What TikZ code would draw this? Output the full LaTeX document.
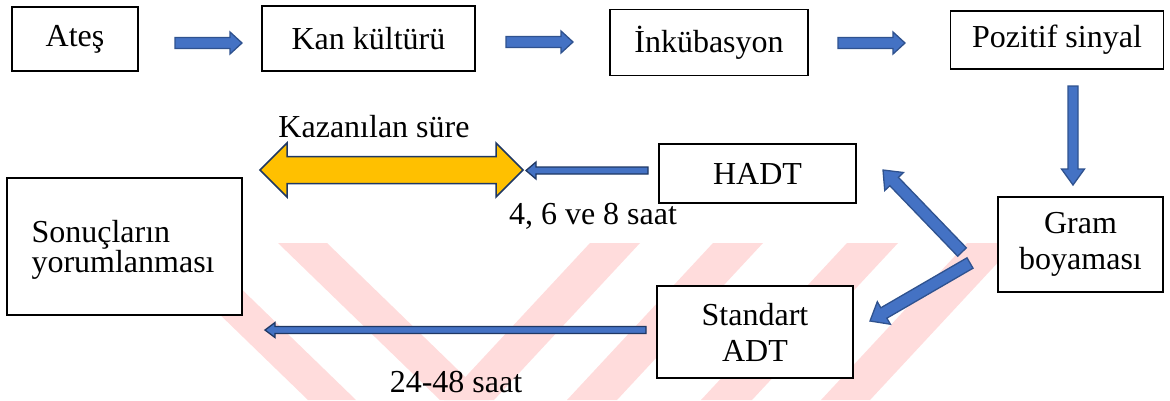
\documentclass[tikz,border=0pt]{standalone}
\usepackage{fontspec}
\setmainfont{Liberation Serif}
\usetikzlibrary{calc}
\definecolor{arrblue}{RGB}{68,114,196}
\definecolor{arrline}{RGB}{47,82,143}
\definecolor{navy}{RGB}{31,56,100}
\definecolor{gold}{RGB}{255,192,0}
\definecolor{wm}{RGB}{255,220,220}
\newcommand{\blockarrow}[6]{%
  \coordinate (bac) at ($(#3)!#6!(#2)$);
  \draw[#1] ($(#2)!#4!90:(#3)$) -- ($(bac)!#4!90:(#3)$) -- ($(bac)!#5!90:(#3)$) -- (#3)
    -- ($(bac)!#5!-90:(#3)$) -- ($(bac)!#4!-90:(#3)$) -- ($(#2)!#4!-90:(#3)$) -- cycle;}
\newcommand{\dblarrow}[6]{%
  \coordinate (dal) at ($(#2)!#6!(#3)$);
  \coordinate (dar) at ($(#3)!#6!(#2)$);
  \draw[#1] (#2) -- ($(dal)!#5!90:(#3)$) -- ($(dal)!#4!90:(#3)$) -- ($(dar)!#4!90:(#3)$)
    -- ($(dar)!#5!90:(#3)$) -- (#3) -- ($(dar)!#5!-90:(#3)$) -- ($(dar)!#4!-90:(#3)$)
    -- ($(dal)!#4!-90:(#3)$) -- ($(dal)!#5!-90:(#3)$) -- cycle;}
\tikzset{
  box/.style={draw=black, line width=1.6pt, fill=white, inner sep=0pt},
  txt/.style={font=\fontsize{32}{36}\selectfont},
  bigarrow/.style={fill=arrblue, draw=arrline, line width=1.3pt, line join=miter},
  thinarrow/.style={fill=arrblue, draw=navy, line width=1.3pt, line join=miter},
  goldarrow/.style={fill=gold, draw=navy, line width=1.5pt, line join=miter},
  wmark/.style={fill=wm, draw=none}
}
\begin{document}
\begin{tikzpicture}[x=1pt,y=-1pt]
\useasboundingbox[fill=white] (0,0) rectangle (1170,400);
% watermark stripes
\fill[wmark] (146,243) -- (194,243) -- (356,400) -- (308,400) -- cycle;
\fill[wmark] (278,243) -- (327,243) -- (489,400) -- (440,400) -- cycle;
\fill[wmark] (590,243) -- (640,243) -- (494,400) -- (444,400) -- cycle;
\fill[wmark] (713,243) -- (763,243) -- (617,400) -- (567,400) -- cycle;
\fill[wmark] (847,243) -- (898,243) -- (752,400) -- (701,400) -- cycle;
\fill[wmark] (967,243) -- (1016,243) -- (870,400) -- (821,400) -- cycle;
% boxes
\node[box, txt, minimum width=126pt, minimum height=64pt] (ates) at (75,39) {Ateş};
\node[box, txt, minimum width=213pt, minimum height=65pt] (kan) at (368.5,38.5) {Kan kültürü};
\node[box, txt, minimum width=198pt, minimum height=66pt] (ink) at (709,42.5) {İnkübasyon};
\node[box, txt, minimum width=213pt, minimum height=58pt] (poz) at (1057,40) {Pozitif sinyal};
\node[box, txt, minimum width=165pt, minimum height=95pt, align=center] (gram) at (1080.5,244.5) {Gram\\boyaması};
\node[box, txt, minimum width=197pt, minimum height=59pt] (hadt) at (757.5,173.5) {HADT};
\node[box, txt, minimum width=196pt, minimum height=92pt, align=center] (std) at (755,332) {Standart\\ADT};
\node[box, minimum width=235pt, minimum height=137pt] (son) at (124.5,246.5) {};
\node[txt, anchor=west, align=left, font=\fontsize{32}{30}\selectfont] (sontxt) at (28,250) {Sonuçların\\yorumlanması};
% arrow end coordinates
\coordinate (a1s) at (175,43);  \coordinate (a1e) at (242,43);
\coordinate (a2s) at (506,42);  \coordinate (a2e) at (573,42);
\coordinate (a3s) at (838,43);  \coordinate (a3e) at (905,43);
\coordinate (a4s) at (1073,86); \coordinate (a4e) at (1073,185);
\coordinate (a5s) at (962,252); \coordinate (a5e) at (883,170);
\coordinate (a6s) at (970,263); \coordinate (a6e) at (870,321);
\coordinate (a7s) at (648,170.5); \coordinate (a7e) at (526,170.5);
\coordinate (a8s) at (646,330); \coordinate (a8e) at (265,330);
\coordinate (gl) at (260,170); \coordinate (gr) at (523,170);
% arrows
\blockarrow{bigarrow}{a1s}{a1e}{5.5pt}{11pt}{12pt}
\blockarrow{bigarrow}{a2s}{a2e}{5.5pt}{11pt}{12pt}
\blockarrow{bigarrow}{a3s}{a3e}{5.5pt}{11pt}{12pt}
\blockarrow{bigarrow}{a4s}{a4e}{5pt}{11.5pt}{16pt}
\blockarrow{bigarrow}{a5s}{a5e}{6pt}{13pt}{16pt}
\blockarrow{bigarrow}{a6s}{a6e}{6pt}{13pt}{16pt}
\blockarrow{thinarrow}{a7s}{a7e}{3.5pt}{8.5pt}{10pt}
\blockarrow{thinarrow}{a8s}{a8e}{3.5pt}{7.5pt}{10pt}
\dblarrow{goldarrow}{gl}{gr}{13.5pt}{27pt}{27pt}
% labels
\node[txt] (kaz) at (374,127) {Kazanılan süre};
\node[txt] (l468) at (593,216) {4, 6 ve 8 saat};
\node[txt] (l2448) at (456,382) {24-48 saat};
\end{tikzpicture}
\end{document}
